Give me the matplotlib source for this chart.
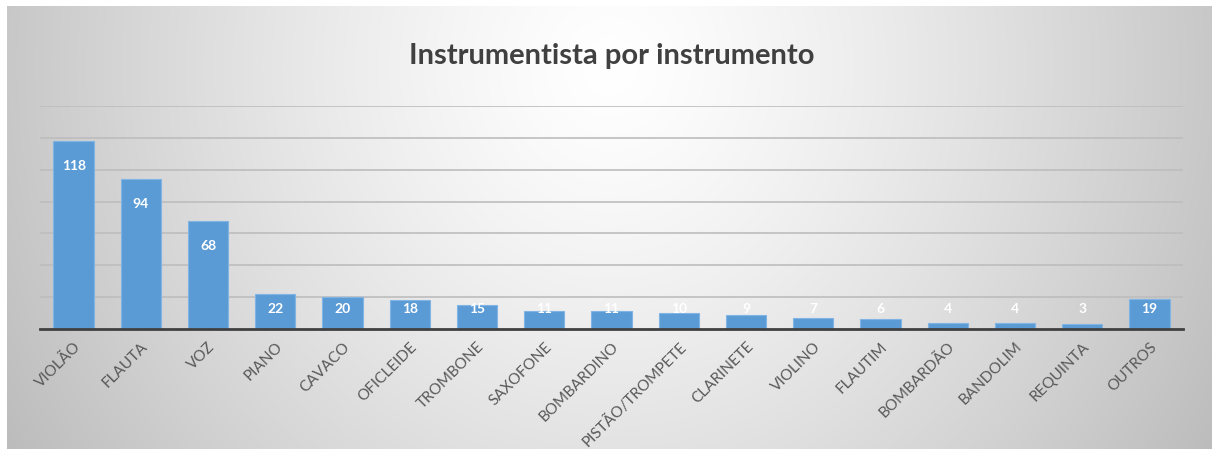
import numpy as np
import matplotlib
matplotlib.use("Agg")
import matplotlib.pyplot as plt

categories = ["VIOLÃO", "FLAUTA", "VOZ", "PIANO", "CAVACO", "OFICLEIDE", "TROMBONE",
              "SAXOFONE", "BOMBARDINO", "PISTÃO/TROMPETE", "CLARINETE", "VIOLINO",
              "FLAUTIM", "BOMBARDÃO", "BANDOLIM", "REQUINTA", "OUTROS"]
values = [118, 94, 68, 22, 20, 18, 15, 11, 11, 10, 9, 7, 6, 4, 4, 3, 19]
title = "Instrumentista por instrumento"

plt.rcParams['font.family'] = ['Lato', 'DejaVu Sans']

W, H = 1212, 452
fig = plt.figure(figsize=(W / 100, H / 100), dpi=100)
fig.patch.set_facecolor("white")

# background gradient (chart area)
bg = fig.add_axes([7 / W, 2 / H, (W - 7) / W, (H - 9) / H])
bg.set_axis_off()
yy, xx = np.mgrid[0:443, 0:1205]
cx, cy = 603, 60
r = np.sqrt(((xx - cx) / 610.0) ** 2 + ((yy - cy) / 650.0) ** 2)
val = 255 - 56 * np.clip(r, 0, 1.2) ** 1.3
img = np.dstack([val, val, val]) / 255.0
bg.imshow(img, aspect="auto", extent=[0, 1, 0, 1], origin="upper")
bg.set_xlim(0, 1)
bg.set_ylim(0, 1)

ax = fig.add_axes([40 / W, (H - 330) / H, (1183 - 40) / W, 223 / H])
ax.patch.set_alpha(0)
x = np.arange(len(categories))
ax.bar(x, values, width=0.6, color="#5b9bd5", edgecolor="#80b4e4", linewidth=0.8, zorder=3)
ax.set_xlim(-0.5, len(categories) - 0.5)
ax.set_ylim(0, 140)
ax.set_yticks(np.arange(20, 141, 20))
ax.yaxis.grid(True, color="#bdbdbd", linewidth=1.2, zorder=0)
ax.tick_params(axis="y", left=False, labelleft=False)
ax.tick_params(axis="x", length=0, pad=7)
for s in ["top", "right", "left"]:
    ax.spines[s].set_visible(False)
ax.spines["bottom"].set_color("#404040")
ax.spines["bottom"].set_linewidth(2)
ax.spines["bottom"].set_zorder(4)
ax.set_xticks(x)
ax.set_xticklabels(categories, fontsize=11, color="#595959")
for lbl in ax.get_xticklabels():
    lbl.set_rotation(45)
    lbl.set_ha("right")
    lbl.set_va("top")
    lbl.set_rotation_mode("anchor")

for xi, v in zip(x, values):
    ypos = max(v - 15, 13)
    ax.text(xi, ypos, str(v), ha="center", va="center", color="white",
            fontsize=10, fontweight="bold", zorder=5)

fig.text(612 / W, 1 - 56 / H, title, ha="center", va="center", fontsize=21,
         fontweight="bold", color="#404040")

fig.savefig("out.png", dpi=100)
